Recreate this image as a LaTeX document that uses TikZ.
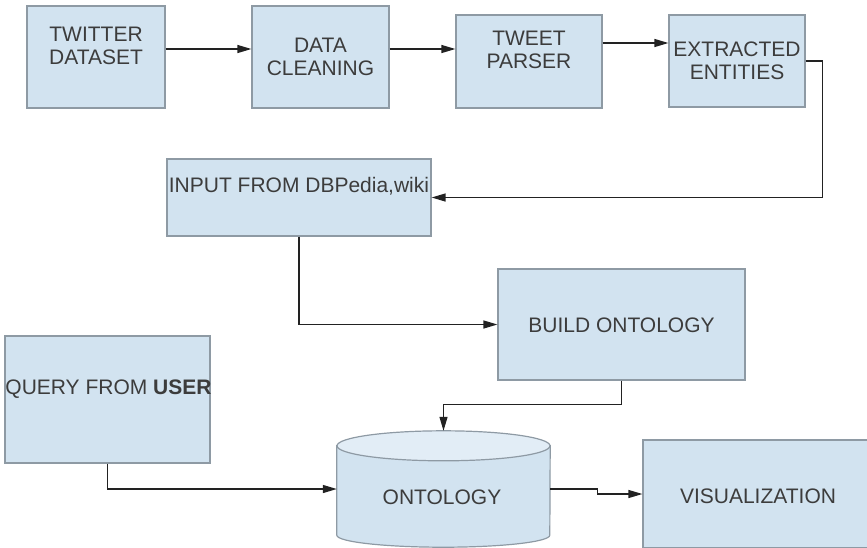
\documentclass[tikz,border=0pt]{standalone}
\usepackage{fontspec}
\setmainfont{Liberation Sans}
\usepackage{xcolor}
\usetikzlibrary{arrows.meta}

\definecolor{boxfill}{HTML}{D2E3F0}
\definecolor{boxline}{HTML}{8E9AA4}
\definecolor{topfill}{HTML}{E2EDF6}
\definecolor{txtgray}{HTML}{3C3C3C}
\definecolor{arrline}{HTML}{222222}

\begin{document}
\begin{tikzpicture}[
  x=1pt, y=-1pt,
  box/.style = {draw=boxline, fill=boxfill, line width=1.2pt, inner sep=0pt},
  lbl/.style = {text=txtgray, align=center, inner sep=0pt, font=\fontsize{21}{23}\selectfont},
  arr/.style = {draw=arrline, line width=1.3pt, -{Triangle[length=14pt, width=8pt]}},
  cyl/.style = {draw=boxline, line width=1.2pt}
]
\useasboundingbox (0,0) rectangle (867,547);
\clip (0,0) rectangle (867,547);

% boxes
\node[box, minimum width=138pt, minimum height=102pt] (twitter) at (96,57) {};
\node[box, minimum width=137pt, minimum height=102pt] (cleaning) at (320.5,57) {};
\node[box, minimum width=146pt, minimum height=93pt] (parser) at (529,61.5) {};
\node[box, minimum width=136pt, minimum height=92pt] (entities) at (737,61) {};
\node[box, minimum width=264pt, minimum height=77pt] (input) at (299,197.5) {};
\node[box, minimum width=247pt, minimum height=111pt] (build) at (621.5,324.5) {};
\node[box, minimum width=205pt, minimum height=127pt] (query) at (107.5,399.5) {};
\node[box, minimum width=230pt, minimum height=108pt] (vis) at (758,494) {};

% cylinder
\node[minimum width=213pt, minimum height=116pt, inner sep=0pt] (onto) at (443.5,489) {};
\draw[cyl, fill=boxfill] ([yshift=-15pt]onto.north west) -- ([yshift=12pt]onto.south west)
  arc[start angle=180, end angle=360, x radius=106.5pt, y radius=12pt]
  -- ([yshift=-15pt]onto.north east) -- cycle;
\draw[cyl, fill=topfill] ([yshift=-15pt]onto.north) ellipse[x radius=106.5pt, y radius=15pt];

% texts
\node[lbl] (twitterlbl) at (96,46) {TWITTER\\DATASET};
\node[lbl] (cleaninglbl) at (320.5,57) {DATA\\CLEANING};
\node[lbl] (parserlbl) at (529,50) {TWEET\\PARSER};
\node[lbl] (entitieslbl) at (737,61) {EXTRACTED\\ENTITIES};
\node[lbl] (inputlbl) at (299,186) {INPUT FROM DBPedia,wiki};
\node[lbl] (buildlbl) at (621.5,325) {BUILD ONTOLOGY};
\node[lbl] (querylbl) at (108.5,389) {QUERY FROM \textbf{USER}};
\node[lbl] (ontolbl) at (442,497) {ONTOLOGY};
\node[lbl] (vislbl) at (758,496) {VISUALIZATION};

% connectors
\draw[arr] ([yshift=8pt]twitter.east) -- ([yshift=8pt]cleaning.west);
\draw[arr] ([yshift=8pt]cleaning.east) -- ([yshift=12.5pt]parser.west);
\draw[arr] ([yshift=18.5pt]parser.east) -- ([yshift=18pt]entities.west);
\draw[arr] (entities.east) -- ++(17,0) |- (input.east);
\draw[arr] (input.south) |- (build.west);
\draw[arr] (build.south) -- ++(0,24) -| (onto.north);
\draw[arr] (query.south) |- (onto.west);
\draw[arr] (onto.east) -- ++(47,0) -- ++(0,5) -- (vis.west);

\end{tikzpicture}
\end{document}
